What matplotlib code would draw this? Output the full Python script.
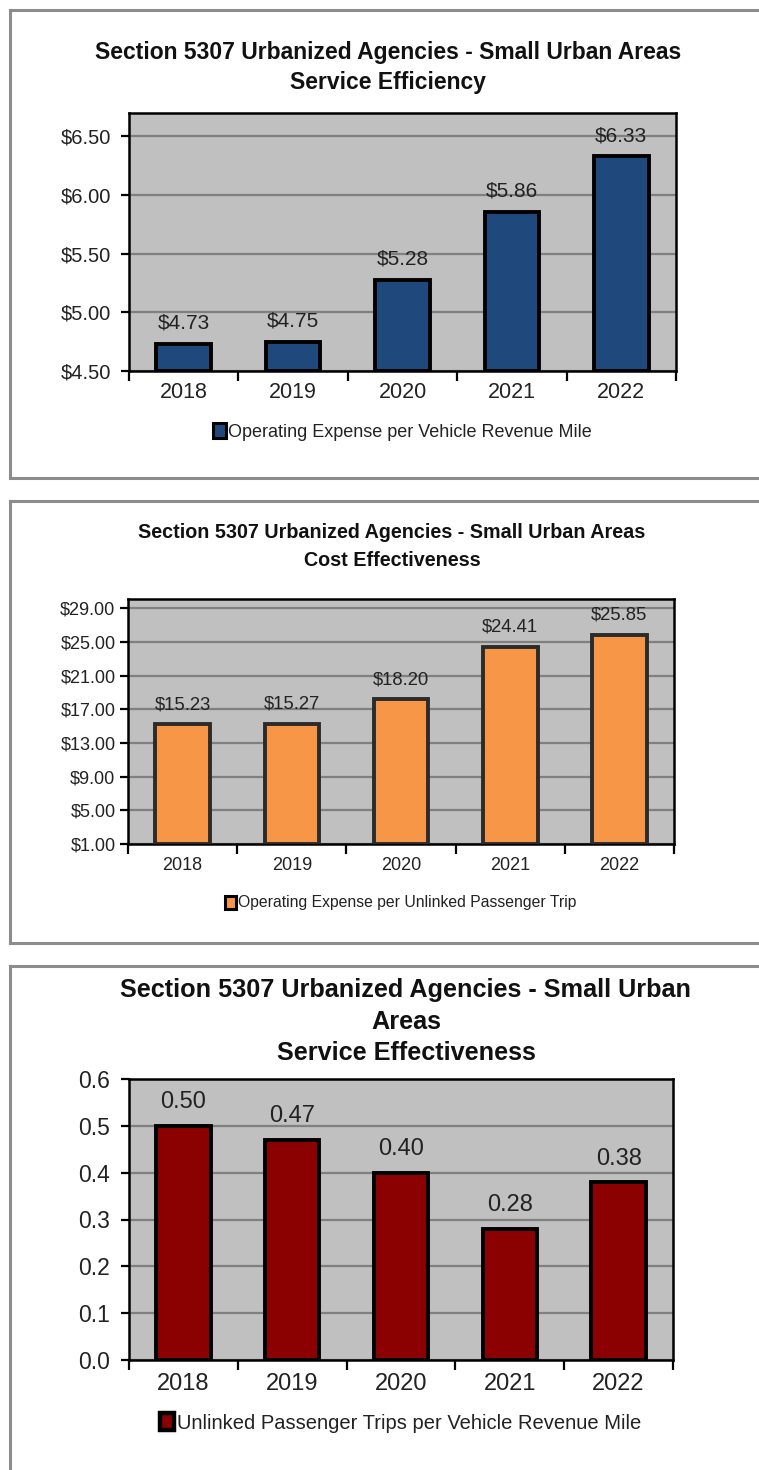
import matplotlib
matplotlib.use("Agg")
import matplotlib.pyplot as plt
from matplotlib.patches import Rectangle
from matplotlib.lines import Line2D
from matplotlib.ticker import FixedLocator, NullFormatter

years = ["2018", "2019", "2020", "2021", "2022"]
efficiency = [4.73, 4.75, 5.28, 5.86, 6.33]
cost = [15.23, 15.27, 18.20, 24.41, 25.85]
effectiveness = [0.50, 0.47, 0.40, 0.28, 0.38]

eff_ticks = [4.50, 5.00, 5.50, 6.00, 6.50]
cost_ticks = [1, 5, 9, 13, 17, 21, 25, 29]
svc_ticks = [0.0, 0.1, 0.2, 0.3, 0.4, 0.5, 0.6]

titles = [
    ["Section 5307 Urbanized Agencies - Small Urban Areas", "Service Efficiency"],
    ["Section 5307 Urbanized Agencies - Small Urban Areas", "Cost Effectiveness"],
    ["Section 5307 Urbanized Agencies - Small Urban", "Areas", "Service Effectiveness"],
]
legends = [
    "Operating Expense per Vehicle Revenue Mile",
    "Operating Expense per Unlinked Passenger Trip",
    "Unlinked Passenger Trips per Vehicle Revenue Mile",
]

FONT = ["Liberation Sans Narrow", "Liberation Sans", "DejaVu Sans"]
plt.rcParams["font.family"] = FONT

W, H = 759, 1470
fig = plt.figure(figsize=(W / 100, H / 100), dpi=100)
fig.patch.set_facecolor("white")


def fx(x):
    return x / W


def fy(y):
    return 1 - y / H


def panel(box, axbox, values, ticks, ylim, tickfmt, lblfmt, color, edge,
          title, title_x, title_ys, title_fs, tick_fs, ypad, lbl_fs, lbl_off,
          xlab_fs, xpad, legend, leg_y, leg_fs, handle_lw):
    x0, y0, x1, y1 = box
    # border: top, left, bottom (no right side visible)
    fig.add_artist(Line2D([fx(x0), fx(x0)], [fy(y0), fy(y1)], transform=fig.transFigure,
                          color="#8c8c8c", lw=2.2))
    fig.add_artist(Line2D([fx(x0), fx(x1)], [fy(y0), fy(y0)], transform=fig.transFigure,
                          color="#8c8c8c", lw=2.2))
    if y1 < H:
        fig.add_artist(Line2D([fx(x0), fx(x1)], [fy(y1), fy(y1)], transform=fig.transFigure,
                              color="#8c8c8c", lw=2.2))
    for line, ty in zip(title, title_ys):
        fig.text(fx(title_x), fy(ty), line, ha="center", va="center",
                 fontsize=title_fs, fontweight="bold", color="#111111")
    ax0, ay0, ax1, ay1 = axbox
    ax = fig.add_axes([fx(ax0), fy(ay1), fx(ax1) - fx(ax0), fy(ay0) - fy(ay1)])
    ax.set_facecolor("#c0c0c0")
    xs = list(range(len(years)))
    ax.bar(xs, [v - ylim[0] for v in values], bottom=ylim[0], width=0.5,
           color=color, edgecolor=edge, linewidth=2.8, zorder=3)
    ax.set_xlim(-0.5, len(years) - 0.5)
    ax.set_ylim(*ylim)
    ax.set_yticks(ticks)
    ax.set_yticklabels([tickfmt.format(t) for t in ticks], fontsize=tick_fs, color="#222222")
    ax.yaxis.grid(True, color="#808080", lw=1.6, zorder=1)
    ax.set_axisbelow(True)
    ax.xaxis.set_major_locator(FixedLocator([i - 0.5 for i in range(len(years) + 1)]))
    ax.xaxis.set_major_formatter(NullFormatter())
    ax.xaxis.set_minor_locator(FixedLocator(xs))
    ax.set_xticklabels(years, minor=True, fontsize=xlab_fs, color="#222222")
    ax.tick_params(axis="x", which="minor", length=0, pad=xpad)
    ax.tick_params(axis="x", which="major", length=7, width=1.6, direction="out")
    ax.tick_params(axis="y", length=6, width=1.6, direction="out", pad=ypad)
    for s in ax.spines.values():
        s.set_linewidth(1.8)
        s.set_color("black")
    for x, v in zip(xs, values):
        ax.annotate(lblfmt.format(v), (x, v), xytext=(0, lbl_off), textcoords="offset points",
                    ha="center", va="bottom", fontsize=lbl_fs, color="#222222")
    handle = Rectangle((0, 0), 1, 1, facecolor=color, edgecolor="black", lw=handle_lw)
    fig.legend([handle], [legend], loc="center", bbox_to_anchor=(fx(0.5 * (ax0 + ax1)), fy(leg_y)),
               frameon=False, fontsize=leg_fs, handlelength=0.7, handleheight=0.9,
               handletextpad=0.15, borderpad=0, labelcolor="#222222")
    return ax


panel((10, 10, 775, 478), (129, 113, 676, 371), efficiency, eff_ticks, (4.5, 6.7),
      "${:.2f}", "${:.2f}", "#1f497d", "black", titles[0], 388, [53, 82], 16.5,
      14.5, 7, 15, 8, 15.5, 8, legends[0], 432, 13, 2.2)
panel((10, 501, 775, 943), (128, 599, 674, 844), cost, cost_ticks, (1, 30.1),
      "${:.2f}", "${:.2f}", "#f79646", "#2b2b2b", titles[1], 392, [533, 560], 14.2,
      13, 3, 13.3, 8, 13, 9, legends[1], 903, 11.3, 2.2)
panel((10, 966, 775, 1490), (129, 1079, 673, 1360), effectiveness, svc_ticks, (0, 0.6),
      "{:.1f}", "{:.2f}", "#8b0000", "black", titles[2], 406, [990, 1022, 1053], 18.2,
      16.5, 8, 17, 9, 17, 9, legends[2], 1423, 14.5, 3.2)

fig.savefig("out.png", dpi=100)
